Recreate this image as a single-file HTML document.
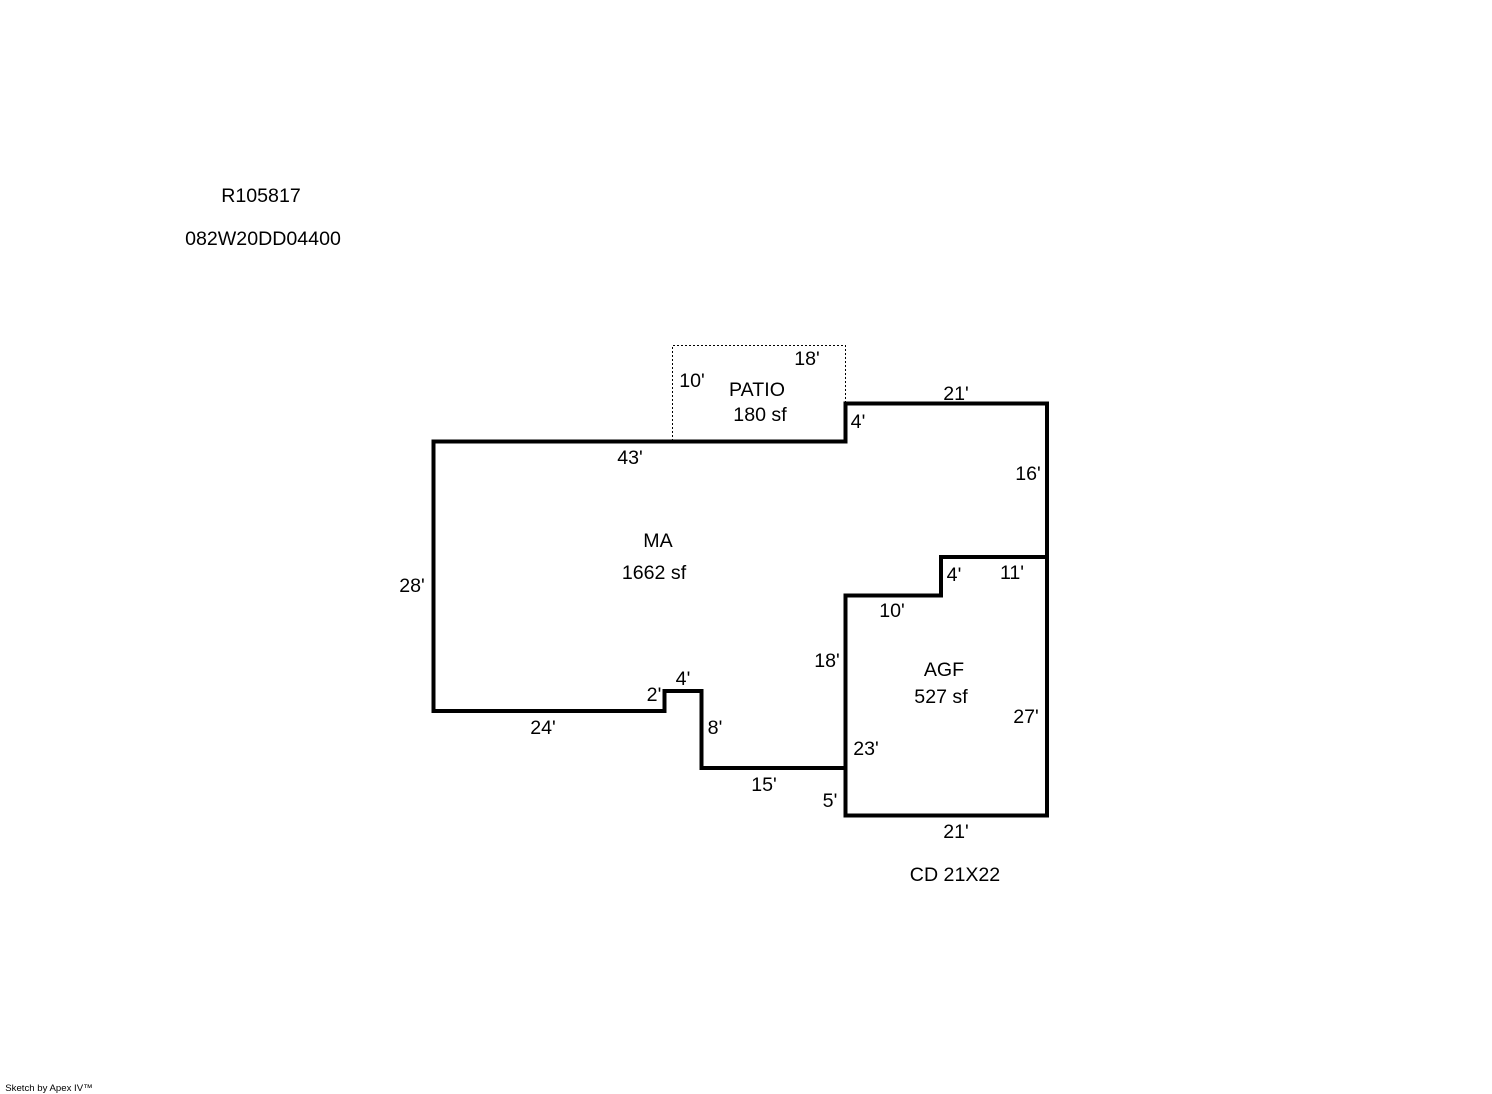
<!DOCTYPE html>
<html>
<head>
<meta charset="utf-8">
<style>
html,body{margin:0;padding:0;background:#fff;}
svg{display:block;}
text{font-family:"Liberation Sans",sans-serif;font-size:19.6px;fill:#000;text-anchor:middle;}
</style>
</head>
<body>
<svg width="1492" height="1094" viewBox="0 0 1492 1094" xmlns="http://www.w3.org/2000/svg">
<rect width="1492" height="1094" fill="#fff"/>
<path d="M672.5 441V345.5H845.5V403" fill="none" stroke="#000" stroke-width="1" stroke-dasharray="2 2" shape-rendering="crispEdges"/>
<path d="M433.5 441.5H845.5V403.5H1047V815.5H845.5V595.5H941V557H1047" fill="none" stroke="#000" stroke-width="4" stroke-linejoin="miter"/>
<path d="M845.5 768H701.5V691H664.5V711H433.5V441.5" fill="none" stroke="#000" stroke-width="4" stroke-linejoin="miter" stroke-linecap="square"/>
<text x="261" y="202">R105817</text>
<text x="263" y="245">082W20DD04400</text>
<text x="807" y="365">18'</text>
<text x="692" y="387">10'</text>
<text x="757" y="396">PATIO</text>
<text x="760" y="421">180 sf</text>
<text x="956" y="400">21'</text>
<text x="858" y="428">4'</text>
<text x="630" y="464">43'</text>
<text x="1028" y="480">16'</text>
<text x="658" y="547">MA</text>
<text x="654" y="579">1662 sf</text>
<text x="954" y="581">4'</text>
<text x="1012" y="579">11'</text>
<text x="412" y="592">28'</text>
<text x="892" y="617">10'</text>
<text x="827" y="667">18'</text>
<text x="944" y="676">AGF</text>
<text x="941" y="703">527 sf</text>
<text x="683" y="685">4'</text>
<text x="654" y="701">2'</text>
<text x="1026" y="723">27'</text>
<text x="543" y="734">24'</text>
<text x="715" y="734">8'</text>
<text x="866" y="755">23'</text>
<text x="764" y="791">15'</text>
<text x="830" y="807">5'</text>
<text x="956" y="838">21'</text>
<text x="955" y="881">CD 21X22</text>
<text x="49" y="1091" style="font-size:9.6px">Sketch by Apex IV™</text>
</svg>
</body>
</html>
